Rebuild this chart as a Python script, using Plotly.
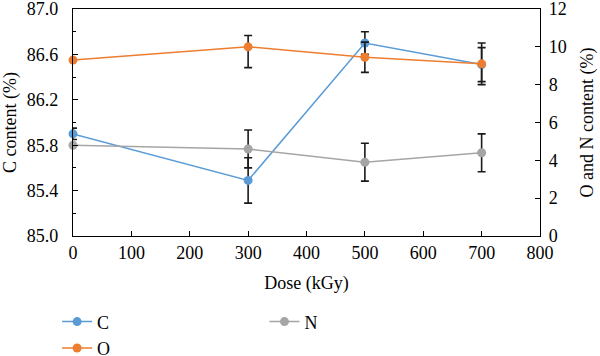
import plotly.graph_objects as go

dose = [0, 300, 500, 700]
c_vals = [85.90, 85.49, 86.70, 86.51]
c_err = [0.05, 0.20, 0.10, 0.15]
o_vals = [9.30, 10.00, 9.45, 9.10]
o_err_plus = [0.0, 0.60, 0.80, 1.10]
o_err_minus = [0.0, 1.10, 0.80, 1.10]
n_vals = [4.80, 4.60, 3.90, 4.40]
n_err = [0.0, 1.00, 1.00, 1.00]

FONT = "Liberation Serif"
FS = 18
eb = dict(color="#1a1a1a", thickness=1.6, width=4)

fig = go.Figure()
fig.add_trace(go.Scatter(
    x=dose, y=c_vals, name="C", mode="lines+markers", yaxis="y",
    line=dict(color="#5B9BD5", width=1.5), marker=dict(size=9, color="#5B9BD5"),
    error_y=dict(type="data", array=c_err, **eb), cliponaxis=False, legend="legend"))
fig.add_trace(go.Scatter(
    x=dose, y=o_vals, name="O", mode="lines+markers", yaxis="y2",
    line=dict(color="#ED7D31", width=1.5), marker=dict(size=9, color="#ED7D31"),
    error_y=dict(type="data", array=o_err_plus, arrayminus=o_err_minus, **eb),
    cliponaxis=False, legend="legend"))
fig.add_trace(go.Scatter(
    x=dose, y=n_vals, name="N", mode="lines+markers", yaxis="y2",
    line=dict(color="#A5A5A5", width=1.5), marker=dict(size=9, color="#A5A5A5"),
    error_y=dict(type="data", array=n_err, **eb), cliponaxis=False, legend="legend2"))

axis_common = dict(showline=True, linecolor="black", linewidth=1.3, ticks="inside",
                   tickcolor="black", ticklen=5, tickwidth=1.3, showgrid=False, zeroline=False,
                   automargin=False, ticklabeloverflow="allow",
                   tickfont=dict(family=FONT, size=FS, color="black"))

fig.update_layout(
    width=600, height=356,
    margin=dict(l=73, r=60, t=9, b=120, autoexpand=False),
    paper_bgcolor="white", plot_bgcolor="white",
    font=dict(family=FONT, size=FS, color="black"),
    xaxis=dict(range=[0, 800], dtick=100, mirror=True, ticklabelstandoff=0,
               title=dict(text="Dose (kGy)", font=dict(family=FONT, size=FS), standoff=14),
               **axis_common),
    yaxis=dict(range=[85.0, 87.0], tick0=85.0, dtick=0.4, tickformat=".1f",
               ticklabelstandoff=10,
               minor=dict(dtick=0.2, ticks="inside", ticklen=3, tickcolor="black", tickwidth=1.2),
               title=dict(text="C content (%)", font=dict(family=FONT, size=FS), standoff=12),
               **axis_common),
    yaxis2=dict(range=[0, 12], dtick=2, overlaying="y", side="right", ticklabelstandoff=4,
                title=dict(text="O and N content (%)", font=dict(family=FONT, size=FS), standoff=14),
                **axis_common),
    legend=dict(x=-0.034, y=-0.297, xanchor="left", yanchor="top", orientation="v",
                font=dict(family=FONT, size=FS), bgcolor="rgba(0,0,0,0)", tracegroupgap=0),
    legend2=dict(x=0.41, y=-0.297, xanchor="left", yanchor="top", orientation="v",
                 font=dict(family=FONT, size=FS), bgcolor="rgba(0,0,0,0)"),
)

fig.write_html("out.html", config={"displayModeBar": False},
               post_script="document.body.style.margin='0';")
